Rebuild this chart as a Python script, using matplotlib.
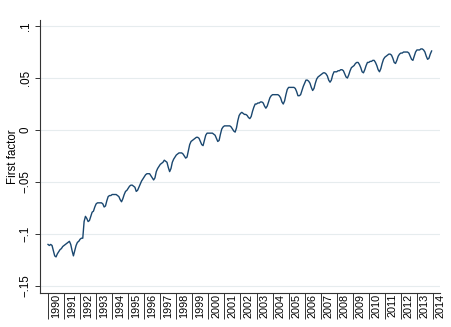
import numpy as np
import matplotlib
matplotlib.use("Agg")
import matplotlib.pyplot as plt
from matplotlib.transforms import ScaledTranslation

plt.rcParams['font.family'] = ['Liberation Sans', 'DejaVu Sans']

start_year = 1990
years = list(range(1990, 2014))
# monthly values of the first factor, one row per year (Jan..Dec)
v1990 = [-0.110, -0.111, -0.110, -0.111, -0.116, -0.121, -0.122, -0.119, -0.117, -0.115, -0.114, -0.112]
v1991 = [-0.111, -0.110, -0.109, -0.108, -0.107, -0.110, -0.116, -0.121, -0.116, -0.111, -0.108, -0.107]
v1992 = [-0.105, -0.104, -0.104, -0.088, -0.083, -0.085, -0.088, -0.087, -0.083, -0.079, -0.078, -0.074]
v1993 = [-0.071, -0.070, -0.070, -0.070, -0.070, -0.071, -0.074, -0.073, -0.068, -0.064, -0.063, -0.063]
v1994 = [-0.062, -0.062, -0.062, -0.062, -0.063, -0.064, -0.067, -0.069, -0.066, -0.062, -0.059, -0.058]
v1995 = [-0.056, -0.054, -0.053, -0.053, -0.054, -0.055, -0.059, -0.058, -0.055, -0.052, -0.049, -0.047]
v1996 = [-0.045, -0.043, -0.042, -0.042, -0.042, -0.044, -0.046, -0.048, -0.046, -0.040, -0.037, -0.035]
v1997 = [-0.033, -0.032, -0.031, -0.029, -0.030, -0.031, -0.036, -0.040, -0.037, -0.031, -0.028, -0.026]
v1998 = [-0.024, -0.023, -0.022, -0.022, -0.022, -0.023, -0.025, -0.027, -0.026, -0.020, -0.014, -0.011]
v1999 = [-0.010, -0.009, -0.008, -0.007, -0.007, -0.008, -0.011, -0.014, -0.015, -0.010, -0.005, -0.003]
v2000 = [-0.003, -0.003, -0.003, -0.003, -0.004, -0.005, -0.008, -0.011, -0.010, -0.004, 0.001, 0.003]
v2001 = [0.004, 0.004, 0.004, 0.004, 0.004, 0.003, 0.001, -0.001, -0.002, 0.002, 0.009, 0.014]
v2002 = [0.016, 0.017, 0.016, 0.015, 0.015, 0.014, 0.012, 0.011, 0.013, 0.018, 0.022, 0.025]
v2003 = [0.025, 0.026, 0.026, 0.027, 0.027, 0.026, 0.023, 0.021, 0.023, 0.027, 0.031, 0.033]
v2004 = [0.034, 0.034, 0.034, 0.034, 0.034, 0.033, 0.031, 0.027, 0.025, 0.028, 0.034, 0.039]
v2005 = [0.041, 0.041, 0.041, 0.041, 0.041, 0.040, 0.037, 0.033, 0.033, 0.034, 0.038, 0.042]
v2006 = [0.045, 0.048, 0.048, 0.047, 0.045, 0.041, 0.038, 0.040, 0.045, 0.049, 0.051, 0.052]
v2007 = [0.053, 0.054, 0.055, 0.055, 0.054, 0.052, 0.048, 0.046, 0.048, 0.053, 0.056, 0.056]
v2008 = [0.056, 0.057, 0.057, 0.058, 0.058, 0.057, 0.054, 0.051, 0.050, 0.053, 0.057, 0.060]
v2009 = [0.061, 0.062, 0.064, 0.065, 0.065, 0.063, 0.060, 0.056, 0.055, 0.058, 0.062, 0.065]
v2010 = [0.065, 0.066, 0.066, 0.067, 0.067, 0.065, 0.062, 0.058, 0.056, 0.059, 0.064, 0.068]
v2011 = [0.070, 0.071, 0.072, 0.073, 0.073, 0.072, 0.069, 0.065, 0.064, 0.067, 0.071, 0.073]
v2012 = [0.074, 0.074, 0.075, 0.075, 0.075, 0.075, 0.074, 0.071, 0.068, 0.067, 0.071, 0.075]
v2013 = [0.077, 0.077, 0.077, 0.078, 0.078, 0.077, 0.075, 0.071, 0.068, 0.069, 0.073, 0.076]

rows = [v1990, v1991, v1992, v1993, v1994, v1995, v1996, v1997, v1998, v1999, v2000,
        v2001, v2002, v2003, v2004, v2005, v2006, v2007, v2008, v2009, v2010, v2011,
        v2012, v2013]
values = np.concatenate(rows)
dates = start_year + np.arange(len(values)) / 12.0

ytick_vals = [-0.15, -0.1, -0.05, 0, 0.05, 0.1]
ytick_labels = ['\u2212.15', '\u2212.1', '\u2212.05', '0', '.05', '.1']
xtick_years = list(range(1990, 2015))
xtick_labels = [str(y) for y in xtick_years]

fig = plt.figure(figsize=(4.52, 3.27), dpi=100)
ax = fig.add_axes([40/452, 34/327, 400/452, 273/327])

ax.plot(dates, values, color='#1a476f', lw=1.0)

ax.set_xlim(1989.5, 2014.44)
ax.set_ylim(-0.1567, 0.1058)

ax.set_yticks(ytick_vals)
ax.set_yticklabels(ytick_labels, rotation=90, va='center', fontsize=8.3)
ax.yaxis.grid(True, color='#e6ecee', lw=0.8)
ax.set_axisbelow(True)
ax.tick_params(axis='y', length=3.8, width=0.7, pad=2, colors='#333333', labelcolor='black')

ax.set_xticks(xtick_years)
ax.set_xticklabels(xtick_labels, rotation=90, fontsize=7.8, va='top', ha='center')
ax.tick_params(axis='x', length=19, width=0.7, pad=-18.3, colors='#333333', labelcolor='black')
offset = ScaledTranslation(0.08, 0, fig.dpi_scale_trans)
for lab in ax.get_xticklabels():
    lab.set_transform(lab.get_transform() + offset)

ax.set_ylabel('First factor', fontsize=8.3, labelpad=0.5)

for s in ['top', 'right']:
    ax.spines[s].set_visible(False)
for s in ['left', 'bottom']:
    ax.spines[s].set_color('#333333')
    ax.spines[s].set_linewidth(0.8)

fig.savefig('out.png', dpi=100, facecolor='white')
